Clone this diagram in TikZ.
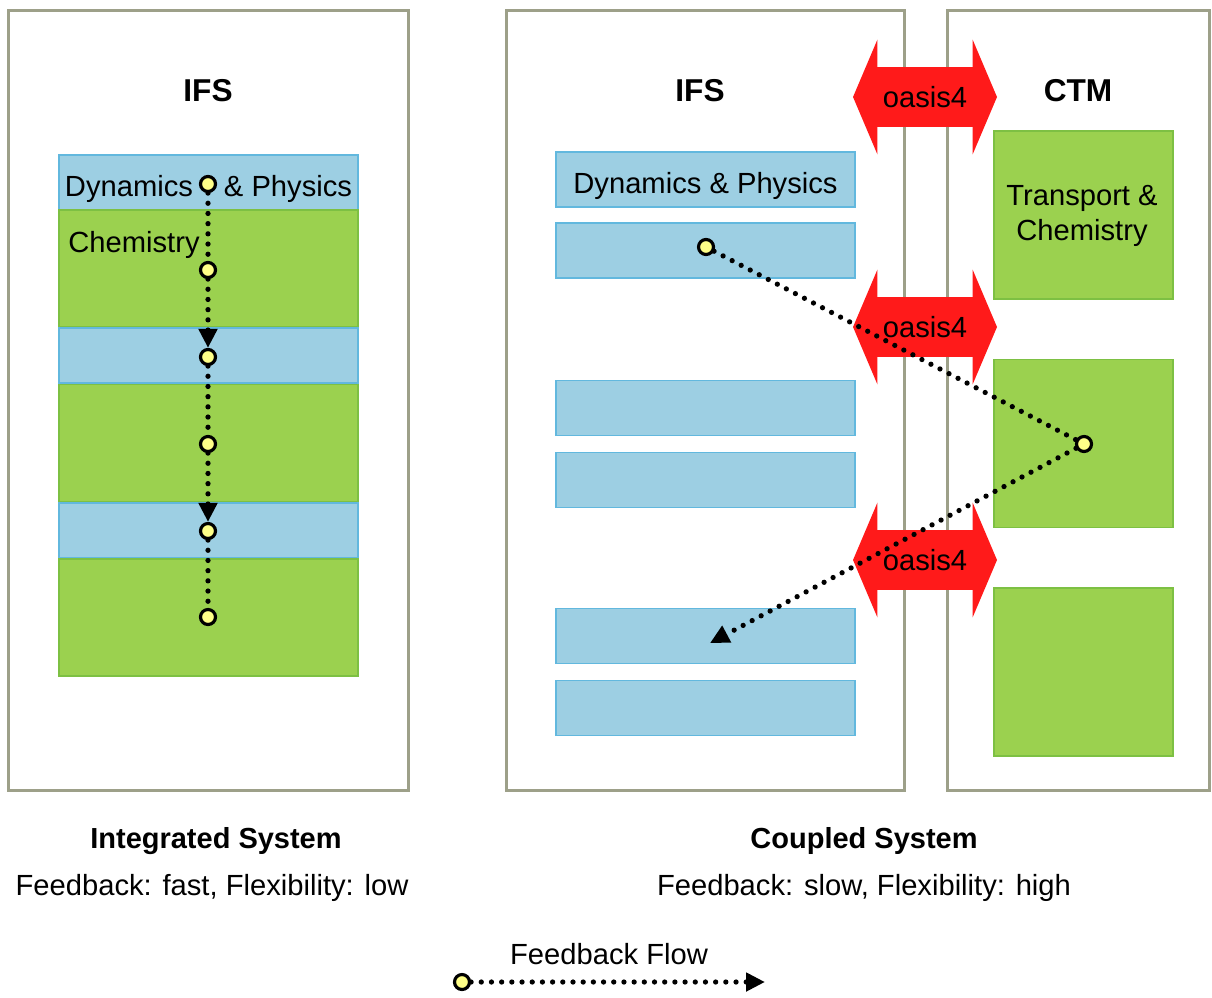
\documentclass[tikz,border=0pt]{standalone}
\usepackage{fontspec}
\setmainfont{Liberation Sans}
\usetikzlibrary{positioning,shapes.arrows,arrows.meta}
\definecolor{panelgray}{HTML}{9DA089}
\definecolor{physblue}{HTML}{9DCFE3}
\definecolor{physline}{HTML}{62B8DE}
\definecolor{chemgreen}{HTML}{9BD14F}
\definecolor{chemline}{HTML}{7DC043}
\definecolor{oasisred}{HTML}{FF1A1A}
\definecolor{dotyellow}{HTML}{FFFF88}
\newcommand{\diagfont}{\fontsize{16.6}{19.5}\selectfont}
\newcommand{\diaghead}{\fontsize{18}{21}\selectfont\bfseries}

\begin{document}
\begin{tikzpicture}[x=0.02cm, y=-0.02cm,
				panel/.style={rectangle, draw=panelgray, line width=0.06cm, minimum height=15.6cm},
				phys/.style={rectangle, draw=physline, fill=physblue, line width=0.8pt, minimum width=5.98cm, minimum height=1.1cm, text height=16.5pt, text depth=0pt, font=\diagfont},
				chem/.style={rectangle, draw=chemline, fill=chemgreen, line width=0.8pt, minimum width=5.98cm, font=\diagfont},
				ctm/.style={rectangle, draw=chemline, fill=chemgreen, line width=0.8pt, minimum width=3.58cm, minimum height=3.36cm, align=center, font=\diagfont},
				coupler/.style={double arrow, fill=oasisred, minimum height=2.88cm, minimum width=2.28cm, double arrow head extend=0.55cm, double arrow tip angle=134, text height=12pt, text depth=0pt, inner ysep=10.75pt, font=\diagfont},
				head/.style={rectangle, font=\diaghead},
				label/.style={rectangle, font=\diagfont},
				dot/.style={circle, draw=black, fill=dotyellow, line width=1.8pt, minimum size=0.3cm, inner sep=0pt},
				flow/.style={line width=3pt, line cap=round, dash pattern=on 0pt off 5.8pt},
				flowtip/.style={-{Triangle[length=0.38cm, width=0.36cm]}}
			]
			\useasboundingbox (0,0) rectangle (1212,997);
			% integrated system
			\node[panel, minimum width=8cm] (intbox) at (208.5,400.5) {};
			\node[head] (intifs) at (208,91) {IFS};
			\node[phys] (intdyn) at (208.5,182.5) {Dynamics\hspace{0.62cm}\& Physics};
			\node[chem, minimum height=2.34cm] (intchem1) at (208.5,268.5) {};
			\node[phys] (intdyn2) at (208.5,355.5) {};
			\node[chem, minimum height=2.34cm] (intchem2) at (208.5,443) {};
			\node[phys] (intdyn3) at (208.5,530.5) {};
			\node[chem, minimum height=2.34cm] (intchem3) at (208.5,617.5) {};
			\node[label, anchor=west, inner sep=0pt] (chemlabel) at (68,245) {Chemistry};
			% coupled system
			\node[panel, minimum width=7.96cm] (ifsbox) at (705.5,400.5) {};
			\node[panel, minimum width=5.25cm] (ctmbox) at (1078.75,400.5) {};
			\node[head] (cplifs) at (700,91) {IFS};
			\node[head] (cplctm) at (1078,91) {CTM};
			\node[phys] (cpldyn1) at (705.5,179.5) {Dynamics \& Physics};
			\node[phys] (cpldyn2) at (705.5,250.5) {};
			\node[phys] (cpldyn3) at (705.5,408) {};
			\node[phys] (cpldyn4) at (705.5,480) {};
			\node[phys] (cpldyn5) at (705.5,636) {};
			\node[phys] (cpldyn6) at (705.5,708) {};
			\node[ctm] (ctm1) at (1083.5,215) {};
			\node[label, align=center] (ctmlabel) at (1082,216) {Transport \&\\Chemistry};
			\node[ctm] (ctm2) at (1083.5,443.5) {};
			\node[ctm] (ctm3) at (1083.5,672) {};
			\node[coupler] (oasis1) at (925,97) {oasis4};
			\node[coupler] (oasis2) at (925,327) {oasis4};
			\node[coupler] (oasis3) at (925,560) {oasis4};
			% feedback points
			\node[dot] (p1) at (208,184) {};
			\node[dot] (p2) at (208,270) {};
			\node[dot] (p3) at (208,357) {};
			\node[dot] (p4) at (208,444) {};
			\node[dot] (p5) at (208,531) {};
			\node[dot] (p6) at (208,617) {};
			\node[dot] (q1) at (706,247) {};
			\node[dot] (q2) at (1084,444) {};
			\coordinate (qend) at (710,643);
			\draw[flow] (p1) -- (p2);
			\draw[flow, flowtip] (p2) -- (p3);
			\draw[flow] (p3) -- (p4);
			\draw[flow, flowtip] (p4) -- (p5);
			\draw[flow] (p5) -- (p6);
			\draw[flow] (q1) -- (q2);
			\draw[flow, flowtip] (q2) -- (qend);
			% captions
			\node[head, font=\fontsize{16.5}{19}\selectfont\bfseries] (intcap) at (216,841) {Integrated System};
			\node[label] (intnote) at (212,888) {Feedback: fast, Flexibility: low};
			\node[head, font=\fontsize{16.5}{19}\selectfont\bfseries] (cplcap) at (864,841) {Coupled System};
			\node[label] (cplnote) at (864,888) {Feedback: slow, Flexibility: high};
			% legend
			\node[label] (legend) at (609,954) {Feedback Flow};
			\node[dot] (legdot) at (462,982) {};
			\coordinate (legend end) at (765,982);
			\draw[flow, flowtip] (legdot) -- (legend end);
			\end{tikzpicture}
\end{document}
